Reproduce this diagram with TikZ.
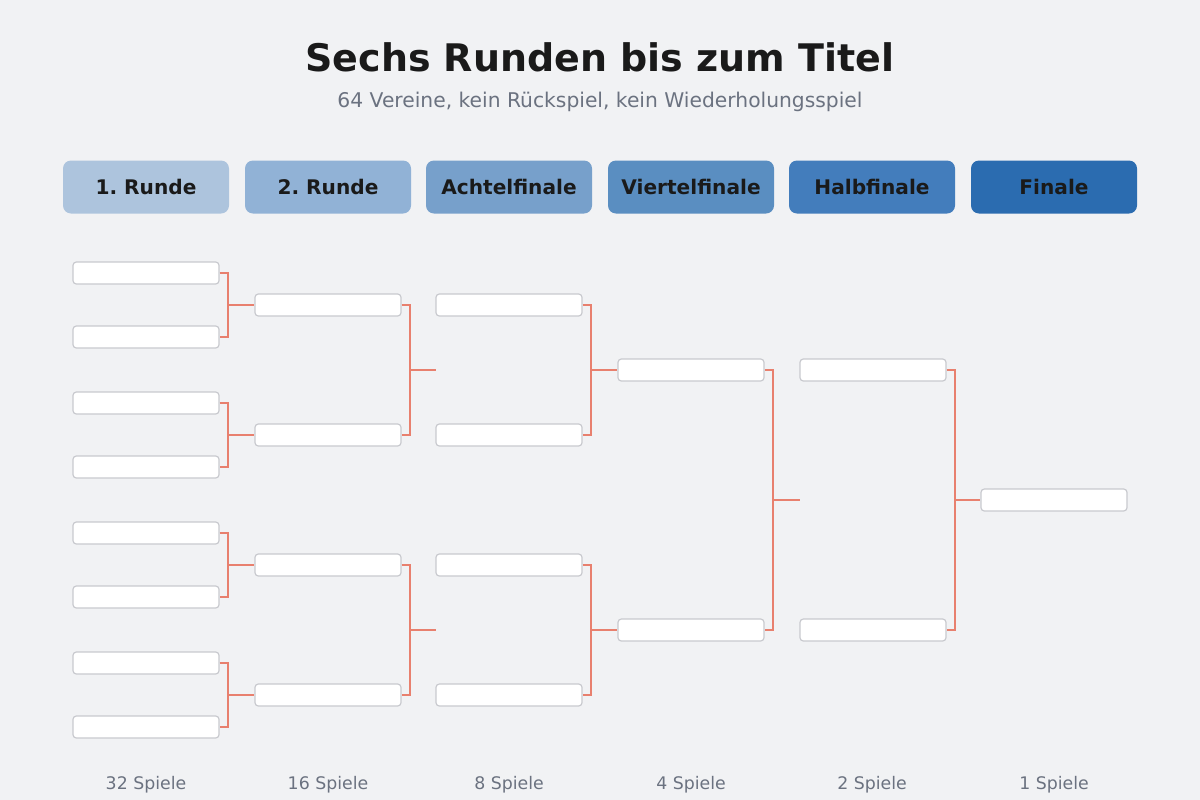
\documentclass[tikz,border=0pt]{standalone}
\usepackage{fontspec}
\setmainfont{DejaVu Sans}
\usepackage{xcolor}
\usetikzlibrary{positioning}
\definecolor{bg}{HTML}{F1F2F4}
\definecolor{ink}{HTML}{1A1A1A}
\definecolor{muted}{HTML}{6B7280}
\definecolor{edge}{HTML}{C9CACF}
\definecolor{salmon}{HTML}{E8806E}
\definecolor{hA}{HTML}{ADC4DD}
\definecolor{hB}{HTML}{91B2D6}
\definecolor{hC}{HTML}{77A0CB}
\definecolor{hD}{HTML}{5A8EC1}
\definecolor{hE}{HTML}{437DBC}
\definecolor{hF}{HTML}{2B6CB0}
\tikzset{
  head/.style={rectangle, rounded corners=6pt, minimum width=124.5pt, minimum height=39.75pt, inner sep=0pt, text=ink, font=\fontsize{15.1}{18}\selectfont\bfseries},
  match/.style={draw=edge, fill=white, rounded corners=2.5pt, line width=0.9pt, minimum width=109.5pt, minimum height=16.5pt, inner sep=0pt},
  link/.style={draw=salmon, line width=1.5pt},
  note/.style={text=muted, font=\fontsize{13}{15}\selectfont, anchor=base}
}
\newcommand{\bracket}[3]{\draw[link] (#1.east) -- ++(8.5,0) coordinate (v) |- (#2.east) (v) |- (#3);}
\frenchspacing

\begin{document}
\begin{tikzpicture}[x=0.75pt, y=-0.75pt]
        \useasboundingbox (0,0) rectangle (1200,800);
        \fill[bg] (0,0) rectangle (1200,800);

        % title
        \node[anchor=base, text=ink, font=\fontsize{28.5}{34}\selectfont\bfseries] (title) at (600,71) {Sechs Runden bis zum Titel};
        \node[anchor=base, text=muted, font=\fontsize{15.2}{18}\selectfont] (sub) at (600,107) {64 Vereine, kein Rückspiel, kein Wiederholungsspiel};

        % round headers and counts
        \foreach \x/\name/\col/\n [count=\i] in {146/1. Runde/hA/32, 328/2. Runde/hB/16, 509/Achtelfinale/hC/8, 691/Viertelfinale/hD/4, 872/Halbfinale/hE/2, 1054/Finale/hF/1} {
            \node[head, fill=\col] (h\i) at (\x,187) {\name};
            \node[note] (c\i) at (\x,789) {\n{} Spiele};
        }

        % matches
        \foreach \y [count=\i] in {273,337,403,467,533,597,663,727}
            \node[match] (ra\i) at (146,\y) {};
        \foreach \y [count=\i] in {305,435,565,695} {
            \node[match] (rb\i) at (328,\y) {};
            \node[match] (rc\i) at (509,\y) {};
        }
        \node[match] (vf1) at (691,370) {};
        \node[match] (vf2) at (691,630) {};
        \node[match] (hf1) at (873,370) {};
        \node[match] (hf2) at (873,630) {};
        \node[match] (fin) at (1054,500) {};
        \coordinate (s1) at (436,370);
        \coordinate (s2) at (436,630);
        \coordinate (s3) at (800,500);

        % brackets
        \bracket{ra1}{ra2}{rb1.west}
        \bracket{ra3}{ra4}{rb2.west}
        \bracket{ra5}{ra6}{rb3.west}
        \bracket{ra7}{ra8}{rb4.west}
        \bracket{rb1}{rb2}{s1}
        \bracket{rb3}{rb4}{s2}
        \bracket{rc1}{rc2}{vf1.west}
        \bracket{rc3}{rc4}{vf2.west}
        \bracket{vf1}{vf2}{s3}
        \bracket{hf1}{hf2}{fin.west}
\end{tikzpicture}
\end{document}
